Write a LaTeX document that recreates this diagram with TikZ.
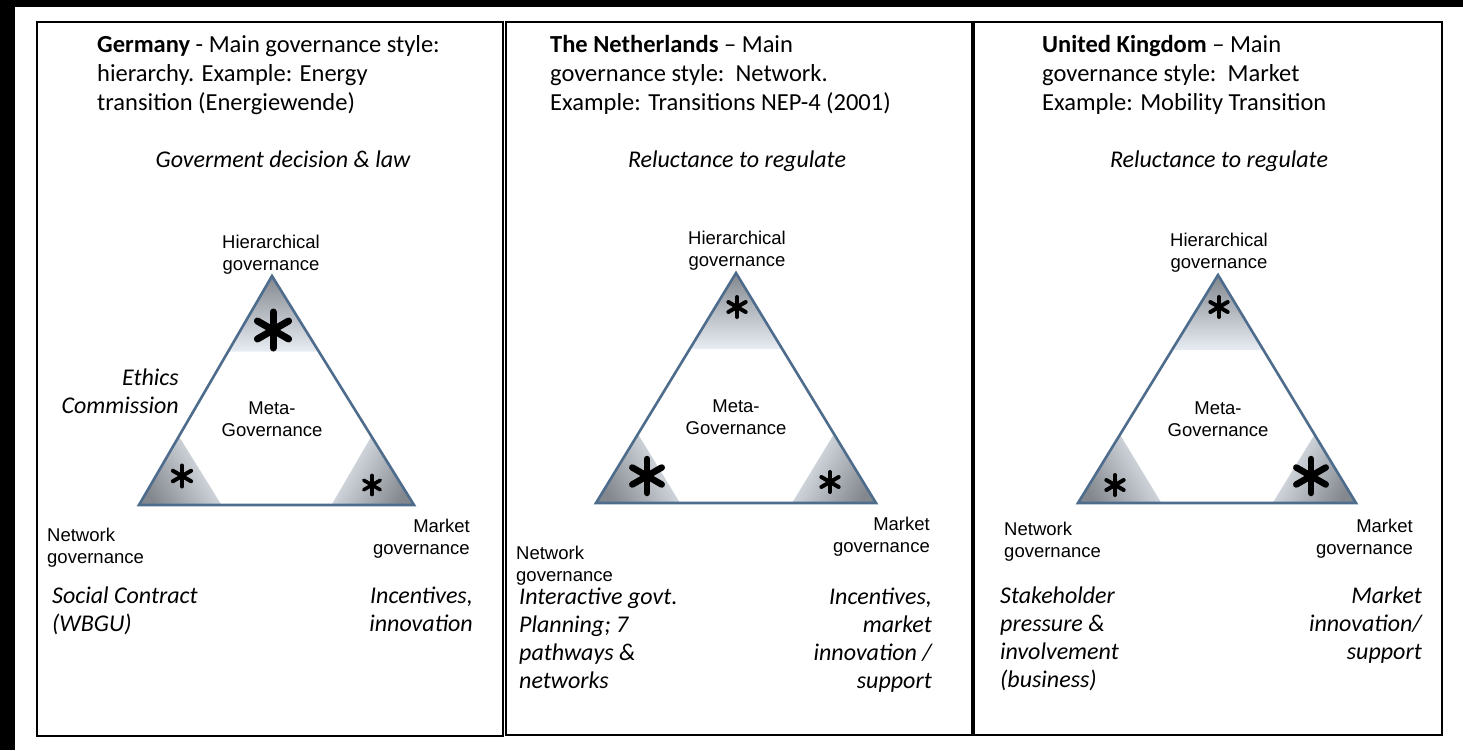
\documentclass[tikz,border=0pt]{standalone}
\usepackage{fontspec}
\setmainfont{Carlito}
\newfontfamily\arialfont{Liberation Sans}
\usetikzlibrary{calc}

\definecolor{triline}{HTML}{4E6C8C}
\definecolor{cornerdark}{HTML}{83878E}
\definecolor{cornerlight}{HTML}{E8EDF3}

\tikzset{
    panel/.style={draw=black, line width=2pt},
    headtext/.style={anchor=base west, align=left, inner sep=0pt,
        font=\fontsize{24.5}{29}\selectfont},
    note/.style={inner sep=0pt, font=\fontsize{24}{28}\selectfont\itshape},
    lbl/.style={inner sep=0pt, font=\arialfont\fontsize{18.5}{21.5}\selectfont},
    tri/.style={draw=triline, line width=2.6pt, line join=miter},
}

\newcommand{\govstar}[3]{%
    \foreach \a in {90,30,-30}
        \draw[line width=#3, line cap=round] (#1) ++(\a:#2) -- ++(\a+180:2*#2);
}

\begin{document}
\begin{tikzpicture}[x=1pt, y=1pt]
    \useasboundingbox (0,0) rectangle (1463,-750);
    \fill[white] (0,0) rectangle (1463,-750);
    \fill[black] (0,0) rectangle (1463,-7);
    \fill[black] (0,0) rectangle (15,-750);

    % panels
    \draw[panel] (37,-22) rectangle (503,-736);
    \draw[panel] (506,-22) rectangle (972,-735);
    \draw[panel] (974,-22) rectangle (1442,-735);

    % triangles with shaded corners
    \foreach \ax/\ay/\lx/\rx/\by in {272/276/139/414/505, 736/273/596/876/503, 1218/275/1078/1356/503}{
        \coordinate (A) at (\ax,-\ay);
        \coordinate (B) at (\lx,-\by);
        \coordinate (C) at (\rx,-\by);
        \shade[top color=cornerdark, bottom color=cornerlight]
            (A) -- ($(A)!0.33!(B)$) -- ($(A)!0.33!(C)$) -- cycle;
        \shade[top color=cornerdark, bottom color=cornerlight, shading angle=120]
            (B) -- ($(B)!0.3!(A)$) -- ($(B)!0.3!(C)$) -- cycle;
        \shade[top color=cornerdark, bottom color=cornerlight, shading angle=-120]
            (C) -- ($(C)!0.3!(A)$) -- ($(C)!0.3!(B)$) -- cycle;
        \draw[tri] (A) -- (B) -- (C) -- cycle;
    }

    % Germany
    \node[headtext] (de-title) at (97,-110)
        {\textbf{Germany} - Main governance style:\\hierarchy. Example: Energy\\transition (Energiewende)};
    \node[note, anchor=base] (de-top) at (283,-167) {Goverment decision \& law};
    \node[lbl, anchor=base, align=center] (de-hier) at (271,-270) {Hierarchical\\governance};
    \node[lbl, anchor=base, align=center] (de-meta) at (272,-436) {Meta-\\Governance};
    \node[note, anchor=base east, align=right] (de-ethics) at (179,-413) {Ethics\\Commission};
    \node[lbl, anchor=base west, align=left] (de-net) at (47,-563) {Network\\governance};
    \node[lbl, anchor=base east, align=right] (de-mkt) at (470,-554) {Market\\governance};
    \node[note, anchor=base west, align=left] (de-netnote) at (52,-631) {Social Contract\\(WBGU)};
    \node[note, anchor=base east, align=right] (de-mktnote) at (473,-631) {Incentives,\\innovation};
    \govstar{273,-330}{18}{7pt}
    \govstar{182,-476}{10.5}{4pt}
    \govstar{372,-485}{9.5}{3.6pt}

    % Netherlands
    \node[headtext] (nl-title) at (550,-110)
        {\textbf{The Netherlands} -- Main\\governance style:\ \ Network.\\Example: Transitions NEP-4 (2001)};
    \node[note, anchor=base] (nl-top) at (737,-167) {Reluctance to regulate};
    \node[lbl, anchor=base, align=center] (nl-hier) at (737,-266) {Hierarchical\\governance};
    \node[lbl, anchor=base, align=center] (nl-meta) at (736,-434) {Meta-\\Governance};
    \node[lbl, anchor=base west, align=left] (nl-net) at (516,-581) {Network\\governance};
    \node[lbl, anchor=base east, align=right] (nl-mkt) at (930,-552) {Market\\governance};
    \node[note, anchor=base west, align=left] (nl-netnote) at (519,-688)
        {Interactive govt.\\Planning; 7\\pathways \&\\networks};
    \node[note, anchor=base east, align=right] (nl-mktnote) at (932,-688)
        {Incentives,\\market\\innovation /\\support};
    \govstar{737,-307}{10}{4pt}
    \govstar{647,-476}{17}{6.5pt}
    \govstar{830,-482}{10}{4pt}

    % United Kingdom
    \node[headtext] (uk-title) at (1042,-110)
        {\textbf{United Kingdom} -- Main\\governance style:\ \ Market\\Example: Mobility Transition};
    \node[note, anchor=base] (uk-top) at (1219,-167) {Reluctance to regulate};
    \node[lbl, anchor=base, align=center] (uk-hier) at (1219,-268) {Hierarchical\\governance};
    \node[lbl, anchor=base, align=center] (uk-meta) at (1218,-436) {Meta-\\Governance};
    \node[lbl, anchor=base west, align=left] (uk-net) at (1004,-557) {Network\\governance};
    \node[lbl, anchor=base east, align=right] (uk-mkt) at (1413,-554) {Market\\governance};
    \node[note, anchor=base west, align=left] (uk-netnote) at (1000,-687)
        {Stakeholder\\pressure \&\\involvement\\(business)};
    \node[note, anchor=base east, align=right] (uk-mktnote) at (1422,-659)
        {Market\\innovation/\\support};
    \govstar{1219,-307}{10}{4pt}
    \govstar{1115,-485}{10}{4pt}
    \govstar{1311,-476}{17}{6.5pt}
\end{tikzpicture}
\end{document}
